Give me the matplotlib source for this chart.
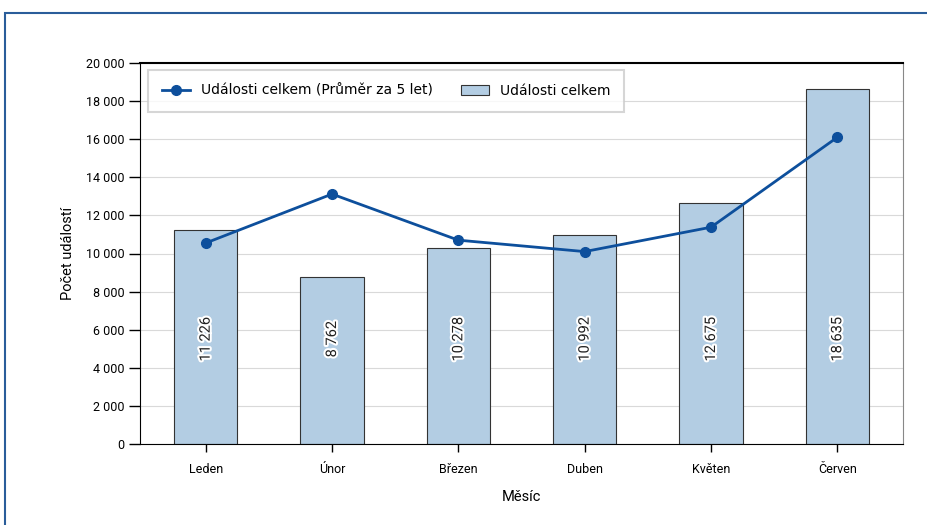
#!/usr/bin/env python3
import matplotlib
matplotlib.use("Agg")
import matplotlib.pyplot as plt
import matplotlib.patheffects as pe
from matplotlib.patches import Rectangle
from matplotlib.ticker import FuncFormatter

# data
months = ["Leden", "Únor", "Březen", "Duben", "Květen", "Červen"]
events_total = [11226, 8762, 10278, 10992, 12675, 18635]
events_avg5 = [10550, 13120, 10700, 10100, 11380, 16100]

bar_color = "#b3cde3"
line_color = "#0d4f9c"

fig = plt.figure(figsize=(9.28, 5.25), dpi=100)
ax = fig.add_axes([140 / 928, 1 - 444 / 525, (903 - 140) / 928, (444 - 63) / 525])

x = range(len(months))
bars = ax.bar(x, events_total, width=0.5, color=bar_color, edgecolor="#333333",
              linewidth=0.8, label="Události celkem", zorder=2)
line, = ax.plot(x, events_avg5, color=line_color, linewidth=2, marker="o", markersize=7,
                label="Události celkem (Průměr za 5 let)", zorder=3)

def fmt(v):
    return f"{int(v):,}".replace(",", " ")

for xi, v in zip(x, events_total):
    t = ax.text(xi, 5500, fmt(v), rotation=90, ha="center", va="center",
                fontsize=10.5, family="Roboto", color="#222222", zorder=4)
    t.set_path_effects([pe.withStroke(linewidth=3, foreground="white")])

ax.set_xlim(-0.52, 5.52)
ax.set_ylim(0, 20000)
ax.set_yticks(range(0, 20001, 2000))
ax.yaxis.set_major_formatter(FuncFormatter(lambda v, p: fmt(v)))
ax.set_xticks(list(x))
ax.set_xticklabels(months)
ax.grid(axis="y", color="#d9d9d9", linewidth=0.8, zorder=0)
ax.set_axisbelow(True)

for lab in ax.get_xticklabels() + ax.get_yticklabels():
    lab.set_family("Roboto")
    lab.set_fontsize(9)
ax.tick_params(axis="y", length=8, width=1, pad=3)
ax.tick_params(axis="x", length=6, width=1, pad=8)

ax.set_xlabel("Měsíc", family="Roboto", fontsize=10.5, labelpad=10)
ax.set_ylabel("Počet událostí", family="Roboto", fontsize=10.5, labelpad=8)

ax.spines["top"].set_linewidth(1.5)
ax.spines["right"].set_color("#888888")

leg = ax.legend([line, bars], [line.get_label(), bars.get_label()], loc="upper left", ncol=2,
                prop={"family": "DejaVu Sans", "size": 10}, frameon=True, fancybox=False,
                edgecolor="#cccccc", borderpad=1.0, columnspacing=2.0, handlelength=2.0,
                borderaxespad=0, bbox_to_anchor=(0.011, 0.982))
leg.get_frame().set_linewidth(1.5)

# blue frame around the figure
fig.patches.append(Rectangle((5 / 928, -0.05), 1.2, (1 - 13 / 525) + 0.05,
                             transform=fig.transFigure, fill=False,
                             edgecolor="#2a5d9a", linewidth=1.5))

fig.savefig("out.png", dpi=100)
